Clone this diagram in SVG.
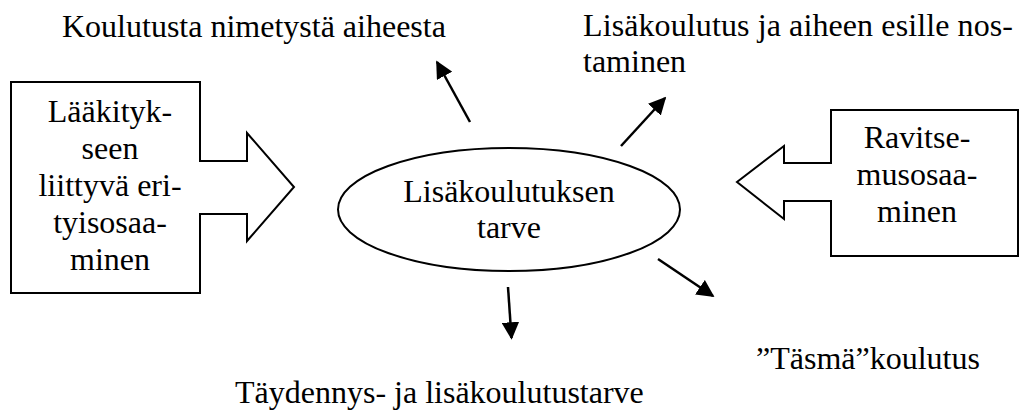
<svg xmlns="http://www.w3.org/2000/svg" width="1028" height="411" viewBox="0 0 1028 411" font-family="'Liberation Serif', 'Times New Roman', 'DejaVu Serif', serif">
<style>
text{font-family:'Liberation Serif','Times New Roman','DejaVu Serif',serif;font-size:32px;fill:#000}
.c{text-anchor:middle}
.shape{fill:#fff;stroke:#000;stroke-width:2}
.conn{stroke:#000;stroke-width:2.5;fill:none;marker-end:url(#ah)}
</style>
<defs>
<marker id="ah" viewBox="0 0 10 10" refX="9" refY="5" markerWidth="7" markerHeight="7" markerUnits="strokeWidth" orient="auto">
<path d="M0,0 L10,5 L0,10 z" fill="#000"/>
</marker>
</defs>
<rect width="1028" height="411" fill="#fff"/>
<g id="left-arrow">
<polygon class="shape" points="11,82 200,82 200,161 247,161 247,133 294,187 247,241 247,214 200,214 200,293 11,293"/>
<text class="c" x="110" y="122">Lääkityk-</text>
<text class="c" x="110" y="159">seen</text>
<text class="c" x="110" y="196">liittyvä eri-</text>
<text class="c" x="110" y="233">tyisosaa-</text>
<text class="c" x="110" y="270">minen</text>
</g>
<g id="right-arrow">
<polygon class="shape" points="1018,110 831,110 831,163 784,163 784,146 737,182 784,219 784,201 831,201 831,256 1018,256"/>
<text class="c" x="917" y="148">Ravitse-</text>
<text class="c" x="917" y="185">musosaa-</text>
<text class="c" x="917" y="222">minen</text>
</g>
<g id="center">
<ellipse class="shape" cx="509" cy="209.5" rx="171" ry="61.5"/>
<text class="c" x="509" y="202">Lisäkoulutuksen</text>
<text class="c" x="509" y="238">tarve</text>
</g>
<g id="connectors">
<line class="conn" x1="470" y1="122" x2="437" y2="62"/>
<line class="conn" x1="621" y1="146" x2="665" y2="98"/>
<line class="conn" x1="508" y1="287" x2="511.5" y2="338"/>
<line class="conn" x1="658" y1="259" x2="713" y2="296"/>
</g>
<g id="label-top-left"><text x="62" y="37">Koulutusta nimetystä aiheesta</text></g>
<g id="label-top-right">
<text x="583" y="36" textLength="430" lengthAdjust="spacing">Lisäkoulutus ja aiheen esille nos-</text>
<text x="583" y="72">taminen</text>
</g>
<g id="label-bottom-right"><text x="756" y="369">”Täsmä”koulutus</text></g>
<g id="label-bottom"><text x="235" y="403">Täydennys- ja lisäkoulutustarve</text></g>
</svg>
